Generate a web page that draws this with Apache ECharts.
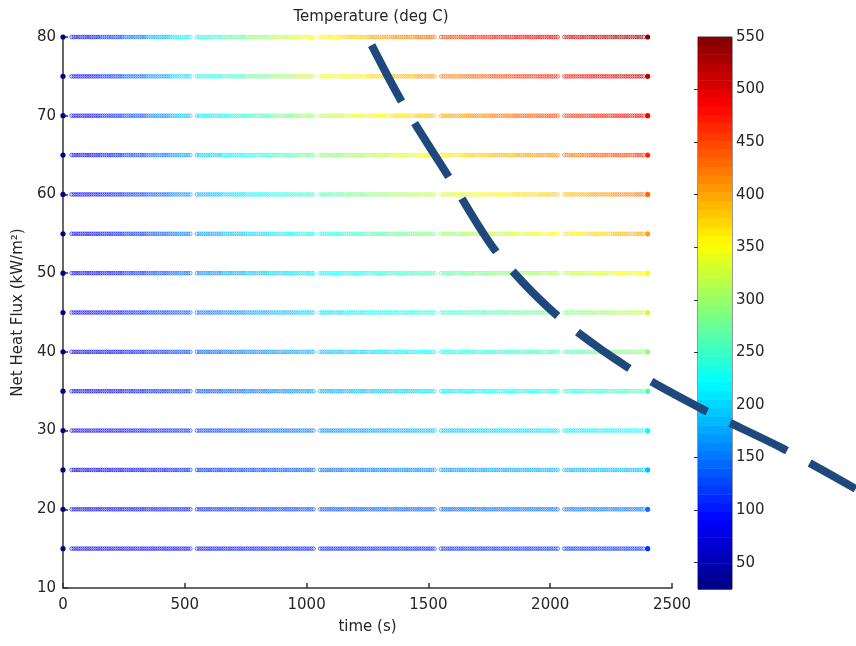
<!DOCTYPE html>
<html lang="en">
<head>
<meta charset="UTF-8">
<title>Temperature (deg C)</title>
<script src="https://cdn.jsdelivr.net/npm/echarts@6/dist/echarts.min.js"></script>
<style>html,body{margin:0;padding:0;background:#fff}</style>
</head>
<body>
<div id="main" style="width:856px;height:646px"></div>
<script>
// times (s) at which temperature was read along each row
var sampleTimes = [0, 100, 200, 300, 400, 500, 600, 700, 800, 900, 1000, 1100, 1200,
                   1300, 1400, 1500, 1600, 1700, 1800, 1900, 2000, 2100, 2200, 2300, 2400];
var fluxLevels = [80, 75, 70, 65, 60, 55, 50, 45, 40, 35, 30, 25, 20, 15];

// temperature (deg C) per row, same order as sampleTimes
var temp80 = [25, 95, 120, 150, 185, 220, 245, 270, 295, 320, 345, 360, 380, 400, 415, 430, 450, 465, 475, 485, 495, 505, 515, 530, 545];
var temp75 = [25, 92, 115, 140, 170, 205, 230, 250, 275, 300, 325, 345, 360, 375, 390, 405, 420, 435, 450, 460, 470, 480, 495, 505, 520];
var temp70 = [25, 90, 110, 130, 160, 190, 215, 235, 255, 280, 300, 320, 340, 355, 370, 385, 400, 415, 425, 440, 450, 460, 470, 480, 490];
var temp65 = [25, 88, 105, 125, 150, 175, 200, 220, 240, 260, 275, 290, 305, 320, 335, 350, 365, 380, 390, 400, 410, 425, 440, 450, 465];
var temp60 = [25, 86, 100, 120, 140, 165, 185, 205, 220, 235, 250, 265, 280, 295, 310, 320, 335, 345, 360, 370, 380, 390, 405, 415, 430];
var temp55 = [25, 85, 98, 115, 135, 155, 175, 190, 205, 218, 230, 240, 252, 264, 276, 288, 300, 312, 325, 338, 350, 362, 375, 388, 400];
var temp50 = [25, 84, 96, 110, 128, 145, 162, 177, 190, 202, 212, 222, 232, 242, 252, 262, 272, 282, 292, 302, 312, 322, 333, 344, 355];
var temp45 = [25, 82, 94, 106, 120, 135, 150, 162, 175, 186, 196, 205, 214, 223, 232, 240, 248, 256, 264, 272, 280, 290, 300, 312, 325];
var temp40 = [25, 80, 92, 103, 115, 128, 140, 151, 162, 172, 181, 190, 198, 206, 214, 222, 229, 236, 243, 250, 257, 266, 275, 285, 295];
var temp35 = [25, 79, 90, 100, 110, 120, 131, 141, 151, 160, 168, 176, 183, 190, 197, 204, 210, 216, 222, 228, 234, 240, 247, 255, 265];
var temp30 = [25, 78, 88, 97, 105, 113, 122, 130, 138, 146, 153, 160, 167, 173, 179, 185, 190, 195, 200, 204, 208, 212, 216, 220, 225];
var temp25 = [25, 77, 86, 94, 101, 108, 115, 122, 129, 135, 141, 147, 152, 157, 162, 166, 170, 174, 177, 180, 183, 185, 187, 189, 190];
var temp20 = [25, 76, 84, 91, 97, 103, 108, 113, 118, 122, 126, 129, 132, 135, 137, 139, 141, 143, 145, 146, 147, 148, 149, 150, 150];
var temp15 = [25, 75, 81, 86, 90, 93, 96, 98, 100, 102, 104, 105, 106, 107, 108, 109, 110, 111, 112, 112, 113, 113, 114, 114, 115];
var tempRows = [temp80, temp75, temp70, temp65, temp60, temp55, temp50, temp45, temp40, temp35, temp30, temp25, temp20, temp15];

// recorded runs: first sample after t=0, last before the final point, and gaps between files
var runStart = 35, runEnd = 2390;
var runBreaks = [536, 1040, 1540, 2042];

// hand drawn dashed overlay (time, flux)
var curveTime = [1267, 1394, 1587, 1780, 2027, 2318, 2634, 2954, 3254];
var curveFlux = [78.96, 71.59, 62.06, 52.65, 44.65, 38.04, 32.57, 27.74, 22.6];

var tempMin = 25, tempMax = 550;
var barTicks = [50, 100, 150, 200, 250, 300, 350, 400, 450, 500, 550];

// jet colormap stops
var jet = ['#000080', '#0000ff', '#0080ff', '#00ffff', '#80ff80', '#ffff00', '#ff8000', '#ff0000', '#800000'];

var points = [];
fluxLevels.forEach(function (q, r) {
    sampleTimes.forEach(function (t, i) {
        points.push([t, q, tempRows[r][i]]);
    });
});

// 64 bands of the colorbar
var bands = [];
var nBands = 64, bandStep = (tempMax - tempMin) / nBands;
for (var b = 0; b < nBands; b++) {
    var lo = tempMin + b * bandStep;
    bands.push([lo, lo + bandStep, lo + bandStep / 2]);
}

var curve = curveTime.map(function (t, i) { return [t, curveFlux[i]]; });

var dotStep = 2.2;
var lastT = sampleTimes[sampleTimes.length - 1];

function renderRun(params, api) {
    var t = api.value(0), q = api.value(1);
    var color = api.visual('color');
    var y = api.coord([0, q])[1];
    var children = [];
    if (t > 0) {
        var lo = t === sampleTimes[1] ? runStart : t - 50;
        var hi = Math.min(t + 50, runEnd);
        var xs = api.coord([runStart, q])[0];
        var x0 = api.coord([lo, q])[0], x1 = api.coord([hi, q])[0];
        var breakX = runBreaks.map(function (bt) { return api.coord([bt, q])[0]; });
        var k = Math.ceil((x0 - xs) / dotStep - 1e-6);
        for (; ; k++) {
            var cx = xs + k * dotStep;
            if (hi === runEnd ? cx > x1 + 1e-6 : cx >= x1 - 1e-6) break;
            var nearBreak = breakX.some(function (bx) { return Math.abs(cx - bx) < 2.2; });
            if (nearBreak) continue;
            children.push({
                type: 'circle',
                shape: {cx: cx, cy: y, r: 1.8},
                style: {fill: 'none', stroke: color, lineWidth: 1, opacity: 0.62}
            });
        }
    }
    if (t === 0 || t === lastT) {
        children.push({
            type: 'circle',
            shape: {cx: api.coord([t, q])[0], cy: y, r: 2.6},
            style: {fill: color}
        });
    }
    return {type: 'group', children: children};
}

function renderBand(params, api) {
    var p0 = api.coord([0, api.value(0)]);
    var p1 = api.coord([1, api.value(1)]);
    return {
        type: 'rect',
        shape: {x: p0[0], y: p1[1], width: p1[0] - p0[0], height: p0[1] - p1[1] + 0.6},
        style: {fill: api.visual('color')}
    };
}

function renderCurve(params, api) {
    if (params.dataIndex !== 0) return null;
    var pts = curve.map(function (p) { return api.coord(p); });
    return {
        type: 'polyline',
        shape: {points: pts, smooth: 0.3},
        style: {fill: null, stroke: '#1F497D', lineWidth: 8, lineDash: [63.5, 25.5], lineCap: 'butt'}
    };
}

var txt = '#262626';
var font = 'DejaVu Sans';
function plain(v) { return String(v); }

var myChart = echarts.init(document.getElementById('main'), null, {renderer: 'canvas'});
var option = {
    backgroundColor: '#ffffff',
    animation: false,
    title: {
        text: 'Temperature (deg C)',
        left: 366,
        top: 5,
        textAlign: 'center',
        textStyle: {color: txt, fontSize: 15, fontWeight: 'normal', fontFamily: font}
    },
    grid: [
        {left: 63, right: 184, top: 37, bottom: 58, outerBoundsMode: 'none'},
        {left: 698, right: 124, top: 37, bottom: 57, show: true, borderColor: '#333', borderWidth: 1,
         backgroundColor: 'transparent', outerBoundsMode: 'none'}
    ],
    xAxis: [{
        type: 'value', gridIndex: 0, min: 0, max: 2500, interval: 500,
        name: 'time (s)', nameLocation: 'middle', nameGap: 32,
        nameTextStyle: {color: txt, fontSize: 15, fontFamily: font},
        axisLine: {lineStyle: {color: '#333', width: 1.5}},
        axisTick: {inside: true, length: 5, lineStyle: {color: '#333', width: 1.5}},
        axisLabel: {color: txt, fontSize: 15, fontFamily: font, margin: 10, formatter: plain},
        splitLine: {show: false}
    }, {
        type: 'value', gridIndex: 1, min: 0, max: 1, show: false
    }],
    yAxis: [{
        type: 'value', gridIndex: 0, min: 10, max: 80, interval: 10,
        name: 'Net Heat Flux (kW/m²)', nameLocation: 'middle', nameGap: 35,
        nameTextStyle: {color: txt, fontSize: 15, fontFamily: font},
        axisLine: {show: true, lineStyle: {color: '#333', width: 1.5}},
        axisTick: {show: true, inside: true, length: 5, lineStyle: {color: '#333', width: 1.5}},
        axisLabel: {color: txt, fontSize: 15, fontFamily: font, margin: 7, formatter: plain},
        splitLine: {show: false}
    }, {
        type: 'value', gridIndex: 1, min: tempMin, max: tempMax, position: 'right',
        axisLine: {show: false},
        axisTick: {show: true, inside: true, length: 4, lineStyle: {color: '#333'},
                   customValues: barTicks.slice(0, -1)},
        axisLabel: {color: txt, fontSize: 15, fontFamily: font, margin: 4, customValues: barTicks,
                    formatter: plain},
        splitLine: {show: false}
    }, {
        type: 'value', gridIndex: 1, min: tempMin, max: tempMax, position: 'left',
        axisLine: {show: false},
        axisTick: {show: true, inside: true, length: 4, lineStyle: {color: '#333'},
                   customValues: barTicks.slice(0, -1)},
        axisLabel: {show: false},
        splitLine: {show: false}
    }],
    visualMap: {
        type: 'continuous', show: false, min: tempMin, max: tempMax, dimension: 2,
        seriesIndex: [0, 1],
        inRange: {color: jet}
    },
    series: [{
        type: 'custom',
        xAxisIndex: 0, yAxisIndex: 0,
        renderItem: renderRun,
        data: points,
        z: 3
    }, {
        type: 'custom',
        xAxisIndex: 1, yAxisIndex: 1,
        renderItem: renderBand,
        data: bands,
        z: 1
    }, {
        type: 'custom',
        xAxisIndex: 0, yAxisIndex: 0,
        renderItem: renderCurve,
        data: curve,
        clip: false,
        z: 10
    }]
};
myChart.setOption(option);
</script>
</body>
</html>
